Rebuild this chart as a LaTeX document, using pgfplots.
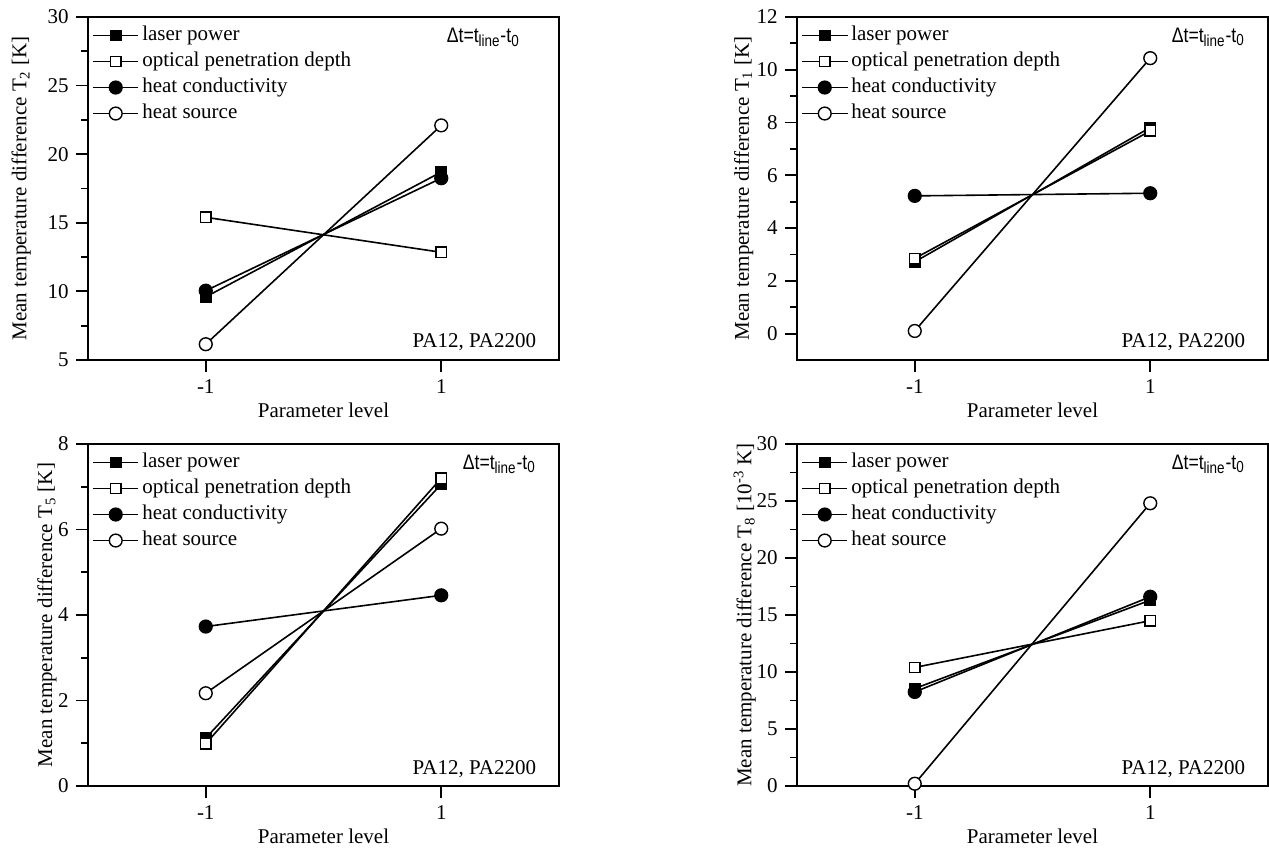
\documentclass[border=0pt]{standalone}
\usepackage{pgfplots}
\pgfplotsset{compat=1.18}
\usepackage{fontspec}
\setmainfont{Liberation Serif}
\setsansfont{Liberation Sans}
\usepackage{graphicx}

\pgfplotsset{
 panel/.style={
  scale only axis, width=235.5pt, height=171.5pt,
  xmin=-2, xmax=2, xtick={-1,1},
  xtick pos=bottom, ytick pos=left, tick align=outside,
  minor y tick num=1,
  major tick length=6pt, minor tick length=3.5pt,
  axis line style={line width=0.9pt},
  tick style={black, line width=0.9pt},
  /pgf/number format/assume math mode=true,
  xlabel={Parameter level},
  xlabel style={at={(axis description cs:0.5,-0.146)}, anchor=center},
  legend style={at={(0.008,0.985)}, anchor=north west, draw=none, fill=none, inner sep=0pt, row sep=0pt,
    nodes={inner sep=1.5pt, text height=7.5pt, text depth=2.5pt}},
  legend cell align=left,
  legend image code/.code={\draw[mark repeat=2, mark phase=2] plot coordinates {(0cm,0cm) (0.4cm,0cm) (0.8cm,0cm)};},
  every axis plot/.append style={black, line width=0.8pt},
  clip=false,
 },
 lp/.style={mark=square*, mark size=2.6pt, mark options={fill=black, line width=0.7pt}},
 op/.style={mark=square*, mark size=2.6pt, mark options={fill=white, line width=0.7pt}},
 hc/.style={mark=*, mark size=3.2pt, mark options={fill=black, line width=0.7pt}},
 hs/.style={mark=*, mark size=3.2pt, mark options={fill=white, line width=0.7pt}},
}
\newcommand\dttext{\scalebox{0.84}[1]{Δt=t\textsubscript{\fontsize{8}{9}\selectfont line}-t\textsubscript{\fontsize{8}{9}\selectfont 0}}}
\newcommand\dtlabel{\node[anchor=base east, font=\sffamily\fontsize{10.5}{12}\selectfont] at (rel axis cs:0.966,0.926) {\dttext};}
\newcommand\palabel{\node[anchor=base east] at (rel axis cs:0.967,0.035) {PA12, PA2200};}

\begin{document}
\fontsize{10.5}{12.6}\selectfont
\begin{tikzpicture}
\useasboundingbox (0,0) rectangle (634.5pt,425pt);
% Top left
\begin{axis}[panel, at={(44pt,245pt)},
  ymin=5, ymax=30, ytick={5,10,...,30},
  ylabel={Mean temperature difference T\textsubscript{2} [K]},
  ylabel style={at={(axis description cs:-0.142,0.5)}, anchor=center}]
\addplot[lp] coordinates {(-1,9.6) (1,18.7)};
\addplot[op] coordinates {(-1,15.4) (1,12.85)};
\addplot[hc] coordinates {(-1,10.05) (1,18.25)};
\addplot[hs] coordinates {(-1,6.15) (1,22.1)};
\legend{laser power, optical penetration depth, heat conductivity, heat source}
\node[anchor=base east, font=\sffamily\fontsize{10.5}{12}\selectfont] at (rel axis cs:0.932,0.926) {\dttext};
\palabel
\end{axis}
% Top right
\begin{axis}[panel, at={(398.5pt,245pt)},
  ymin=-1, ymax=12, ytick={0,2,...,12},
  ylabel={Mean temperature difference T\textsubscript{1} [K]},
  ylabel style={at={(axis description cs:-0.113,0.5)}, anchor=center}]
\addplot[lp] coordinates {(-1,2.72) (1,7.81)};
\addplot[op] coordinates {(-1,2.85) (1,7.68)};
\addplot[hc] coordinates {(-1,5.22) (1,5.32)};
\addplot[hs] coordinates {(-1,0.1) (1,10.44)};
\legend{laser power, optical penetration depth, heat conductivity, heat source}
\dtlabel
\palabel
\end{axis}
% Bottom left
\begin{axis}[panel, at={(44pt,32pt)}, height=171pt,
  ymin=0, ymax=8, ytick={0,2,...,8},
  ylabel={Mean temperature difference T\textsubscript{5} [K]},
  ylabel style={at={(axis description cs:-0.087,0.5)}, anchor=center}]
\addplot[lp] coordinates {(-1,1.12) (1,7.06)};
\addplot[op] coordinates {(-1,0.99) (1,7.2)};
\addplot[hc] coordinates {(-1,3.73) (1,4.46)};
\addplot[hs] coordinates {(-1,2.17) (1,6.02)};
\legend{laser power, optical penetration depth, heat conductivity, heat source}
\dtlabel
\palabel
\end{axis}
% Bottom right
\begin{axis}[panel, at={(398.5pt,32pt)}, height=171pt,
  ymin=0, ymax=30, ytick={0,5,...,30},
  ylabel={Mean temperature difference T\textsubscript{8} [10\textsuperscript{-3} K]},
  ylabel style={at={(axis description cs:-0.111,0.5)}, anchor=center}]
\addplot[lp] coordinates {(-1,8.55) (1,16.3)};
\addplot[op] coordinates {(-1,10.4) (1,14.5)};
\addplot[hc] coordinates {(-1,8.25) (1,16.6)};
\addplot[hs] coordinates {(-1,0.2) (1,24.8)};
\legend{laser power, optical penetration depth, heat conductivity, heat source}
\dtlabel
\palabel
\end{axis}
\end{tikzpicture}
\end{document}
